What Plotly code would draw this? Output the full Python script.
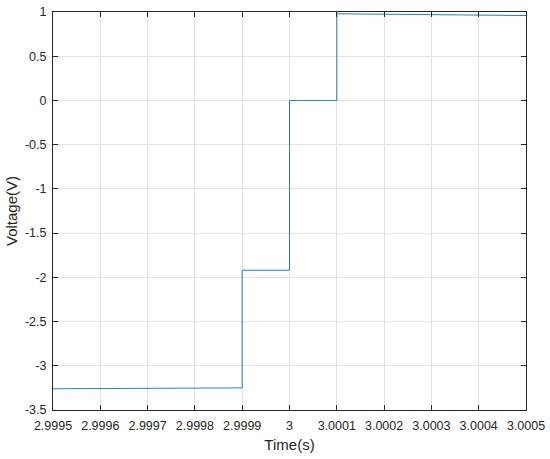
import plotly.graph_objects as go

# step signal around t = 3 s
time_s = [2.9995, 2.9999, 2.9999, 3.0, 3.0, 3.0001, 3.0001, 3.0005]
voltage = [-3.26, -3.25, -1.92, -1.92, 0.0, 0.0, 0.98, 0.96]

x_ticks = [2.9995, 2.9996, 2.9997, 2.9998, 2.9999, 3.0, 3.0001, 3.0002, 3.0003, 3.0004, 3.0005]
x_labels = ['2.9995', '2.9996', '2.9997', '2.9998', '2.9999', '3',
            '3.0001', '3.0002', '3.0003', '3.0004', '3.0005']
y_ticks = [-3.5, -3, -2.5, -2, -1.5, -1, -0.5, 0, 0.5, 1]
y_labels = ['-3.5', '-3', '-2.5', '-2', '-1.5', '-1', '-0.5', '0', '0.5', '1']

fig = go.Figure()
fig.add_trace(go.Scatter(x=time_s, y=voltage, mode='lines',
                         line=dict(color='#1f80c0', width=1)))

axis_style = dict(showline=True, linecolor='#262626', linewidth=1, mirror='ticks',
                  ticks='inside', ticklen=5, tickcolor='#262626',
                  showgrid=True, gridcolor='#e3e3e3', gridwidth=1,
                  zeroline=False, automargin=False, ticklabeloverflow='allow',
                  tickfont=dict(size=12.5, color='#262626'))

fig.update_layout(
    width=550, height=459,
    margin=dict(l=53, r=24, t=12, b=49),
    paper_bgcolor='white', plot_bgcolor='white',
    font=dict(family='Arial, Liberation Sans, sans-serif', color='#262626', size=12.5),
    showlegend=False,
    xaxis=dict(range=[2.9995, 3.0005], tickvals=x_ticks, ticktext=x_labels,
               ticklabelstandoff=4,
               title=dict(text='Time(s)', standoff=7), **axis_style),
    yaxis=dict(range=[-3.5, 1], tickvals=y_ticks, ticktext=y_labels,
               ticklabelstandoff=3,
               title=dict(text='Voltage(V)', standoff=3), **axis_style),
)

# drop the default 8px body margin so the figure fills the window
fig.write_html("out.html", config={'displayModeBar': False},
               post_script="document.body.style.margin = '0';")
